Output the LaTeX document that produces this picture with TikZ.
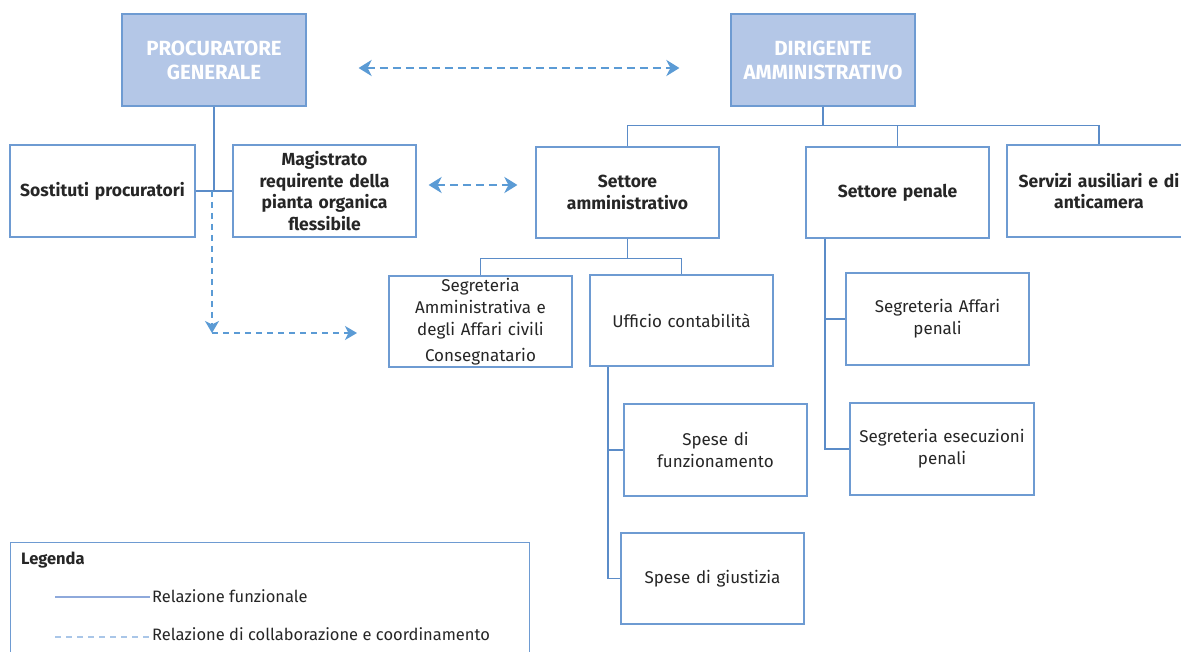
\documentclass[tikz,border=0pt]{standalone}
\usepackage{fontspec}
\setmainfont{Fira Sans}
\usetikzlibrary{arrows.meta}
\definecolor{boxline}{HTML}{6E9BD2}
\definecolor{topfill}{HTML}{B4C7E7}
\definecolor{linkline}{HTML}{5B8CC8}
\definecolor{collabline}{HTML}{5B9BD5}
\definecolor{legfunz}{HTML}{8EA9DB}
\definecolor{legcoll}{HTML}{A9C6E8}
\begin{document}
\begin{tikzpicture}[x=1pt,y=-1pt,
  ufficio/.style={draw=boxline, line width=1.2pt, fill=white, minimum width=184pt,
    minimum height=92pt, align=center, text width=180pt, inner sep=0pt,
    font=\fontsize{17}{22}\selectfont, text=black!85},
  capo/.style={ufficio, fill=topfill, text=white, font=\fontsize{20.5}{24}\selectfont\bfseries},
  settore/.style={ufficio, font=\fontsize{17.5}{21.5}\selectfont\bfseries},
  funz/.style={draw=linkline, line width=1.1pt},
  collab/.style={draw=collabline, line width=2.4pt, dash pattern=on 8pt off 5pt,
    {Stealth[length=13pt,width=16pt,inset=4pt]}-{Stealth[length=13pt,width=16pt,inset=4pt]}},
  collabr/.style={draw=collabline, line width=1.3pt, dash pattern=on 6pt off 5pt,
    -{Stealth[length=12pt,width=14pt,inset=3.5pt]}},
  legtesto/.style={anchor=west, inner sep=2pt, font=\fontsize{16.5}{20}\selectfont, text=black!85}]
  \clip (0,0) rectangle (1181,652);
  \fill[white] (0,0) rectangle (1181,652);

  % vertici
  \node[capo] (pg) at (214,60) {PROCURATORE\\GENERALE};
  \node[capo] (da) at (823,60) {DIRIGENTE\\AMMINISTRATIVO};

  % magistratura
  \node[settore, minimum width=185pt] (sost) at (102.5,191) {Sostituti procuratori};
  \node[settore, minimum width=183pt] (mag) at (324.5,191) {Magistrato\\requirente della\\pianta organica\\flessibile};

  % settori
  \node[settore, minimum width=183pt, minimum height=91pt] (samm) at (627.5,192.5) {Settore\\amministrativo};
  \node[settore, minimum width=183pt, minimum height=91pt] (spen) at (897.5,192.5) {Settore penale};
  \node[settore, minimum width=184pt] (serv) at (1099,191) {Servizi ausiliari e di\\anticamera};

  % uffici
  \node[ufficio, minimum width=183pt, minimum height=91pt] (segamm) at (480.5,321.5)
    {Segreteria\\Amministrativa e\\degli Affari civili\\[4pt]Consegnatario};
  \node[ufficio, minimum width=183pt, minimum height=91pt] (uffc) at (681.5,320.5) {Ufficio contabilità};
  \node[ufficio, minimum width=183pt] (spfun) at (715.5,450) {Spese di\\funzionamento};
  \node[ufficio, minimum width=183pt, minimum height=91pt] (spgiu) at (712.5,578.5) {Spese di giustizia};
  \node[ufficio, minimum width=183pt] (segaff) at (937.5,319) {Segreteria Affari\\penali};
  \node[ufficio, minimum width=184pt] (segese) at (942,449) {Segreteria esecuzioni\\penali};

  % relazioni funzionali
  \draw[funz] (pg.south) -- (pg.south |- sost.east);
  \draw[funz] (sost.east) -- (mag.west);
  \draw[funz] (da.south) -- ++(0,19) -| (samm.north);
  \draw[funz] (da.south) -- ++(0,19) -| (spen.north);
  \draw[funz] (da.south) -- ++(0,19) -| (serv.north);
  \draw[funz] (samm.south) -- ++(0,20) -| (segamm.north);
  \draw[funz] (samm.south) -- ++(0,20) -| (uffc.north);
  \draw[funz] ([xshift=-73.5pt]uffc.south) |- (spfun.west);
  \draw[funz] ([xshift=-73.5pt]uffc.south) |- (spgiu.west);
  \draw[funz] ([xshift=-72.5pt]spen.south) |- (segaff.west);
  \draw[funz] ([xshift=-72.5pt]spen.south) |- (segese.west);

  % relazioni di collaborazione
  \draw[collab] ([shift={(52,8)}]pg.east) -- ([shift={(-51,8)}]da.west);
  \draw[collab] ([shift={(12,-6)}]mag.east) -- ([shift={(-18,-7.5)}]samm.west);
  \coordinate (angolo) at (212,333);
  \coordinate (freccia) at (357,333);
  \draw[collabr] ([xshift=-2pt]pg.south |- sost.east) -- (angolo);
  \draw[collabr] (angolo) -- (freccia);

  % legenda
  \node[draw=boxline, line width=1.2pt, minimum width=519pt, minimum height=130pt, anchor=north west] (leg) at (10,542) {};
  \node[legtesto, font=\fontsize{16.5}{20}\selectfont\bfseries] (legt) at (19,560) {Legenda};
  \node[legtesto] (legf) at (150,596) {Relazione funzionale};
  \node[legtesto] (legc) at (150,634) {Relazione di collaborazione e coordinamento};
  \coordinate (legf0) at (55,597);
  \coordinate (legc0) at (55,637);
  \draw[draw=legfunz, line width=2.2pt] (legf0) -- (legf0 -| legf.west);
  \draw[draw=legcoll, line width=1.2pt, dash pattern=on 6pt off 5pt] (legc0) -- (legc0 -| legc.west);
\end{tikzpicture}
\end{document}
